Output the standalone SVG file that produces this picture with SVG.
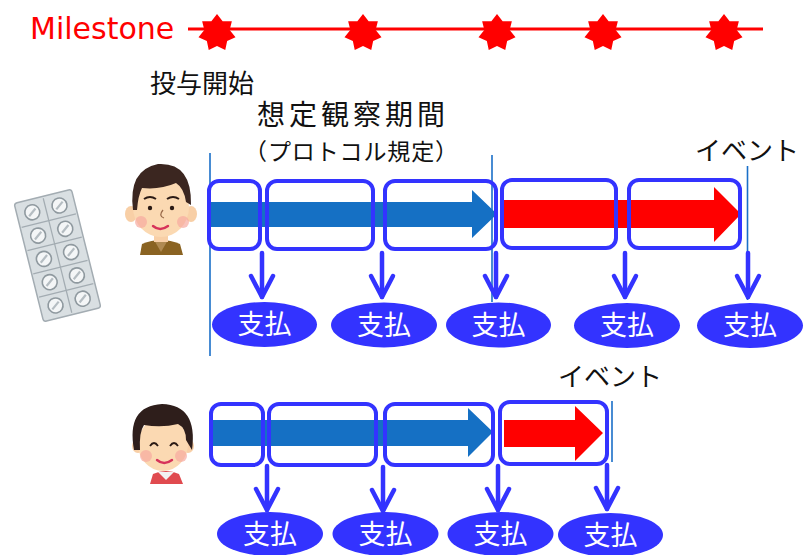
<svg xmlns="http://www.w3.org/2000/svg" width="807" height="555" viewBox="0 0 807 555">
  <style>
    .jp { font-family: "Noto Sans CJK JP", "Noto Sans", sans-serif; fill: #111; }
    .pay { font-family: "Noto Sans CJK JP", "Noto Sans", sans-serif; fill: #fff; font-size: 27px; text-anchor: middle; }
    .frame { fill: none; stroke: #3333ff; stroke-width: 4; }
    .oval { fill: #3333ff; }
    .down { fill: none; stroke: #3333ff; stroke-width: 4.5; stroke-linecap: round; stroke-linejoin: round; }
    .mark { stroke: #1a6fc8; stroke-width: 1.6; }
    .pillcell { fill: none; stroke: #a3acb2; stroke-width: 1.2; }
  </style>
  <defs>
    <polygon id="star" fill="#ff0000" points="0,-19 5.64,-11.71 14.85,-11.85 12.67,-2.89 18.52,4.23 10.16,8.11 8.24,17.12 0,13 -8.24,17.12 -10.16,8.11 -18.52,4.23 -12.67,-2.89 -14.85,-11.85 -5.64,-11.71"/>
    <g id="pill">
      <circle r="7.5" fill="#f4f6f7" stroke="#8f999f" stroke-width="1.6"/>
      <line x1="-4" y1="3" x2="4" y2="-3" stroke="#b5bdc2" stroke-width="2.2"/>
    </g>
    <g id="downArrow">
      <line class="down" x1="0" y1="0" x2="0" y2="44"/>
      <polyline class="down" points="-11,23 0,44 11,23"/>
    </g>
  </defs>

  <!-- milestone line -->
  <g id="milestone">
    <text x="30" y="39" font-family="DejaVu Sans, sans-serif" font-size="30" fill="#ff0000">Milestone</text>
    <line x1="188" y1="29" x2="763" y2="29" stroke="#ff0000" stroke-width="3"/>
    <use href="#star" x="217" y="33"/>
    <use href="#star" x="363" y="33"/>
    <use href="#star" x="497" y="33"/>
    <use href="#star" x="603" y="33"/>
    <use href="#star" x="724" y="33"/>
  </g>

  <!-- labels -->
  <g id="labels">
    <text class="jp" x="150" y="93" font-size="26">投与開始</text>
    <text class="jp" x="257" y="125" font-size="28" textLength="188" lengthAdjust="spacing">想定観察期間</text>
    <text class="jp" x="244" y="160" font-size="23" textLength="214" lengthAdjust="spacing">（プロトコル規定）</text>
    <text class="jp" x="695" y="160" font-size="26">イベント</text>
    <text class="jp" x="558" y="386" font-size="26">イベント</text>
  </g>

  <!-- blister pack -->
  <g id="blister" transform="translate(57.5 255.5) rotate(-14)">
    <rect x="-29.5" y="-61" width="59" height="122" rx="3" fill="#d9dfe2" stroke="#a3acb2" stroke-width="1.5"/>
    <line class="pillcell" x1="0" y1="-59" x2="0" y2="59"/>
    <line class="pillcell" x1="-28" y1="-36" x2="28" y2="-36"/>
    <line class="pillcell" x1="-28" y1="-12" x2="28" y2="-12"/>
    <line class="pillcell" x1="-28" y1="12" x2="28" y2="12"/>
    <line class="pillcell" x1="-28" y1="36" x2="28" y2="36"/>
    <use href="#pill" x="-14" y="-48"/><use href="#pill" x="14" y="-48"/>
    <use href="#pill" x="-14" y="-24"/><use href="#pill" x="14" y="-24"/>
    <use href="#pill" x="-14" y="0"/><use href="#pill" x="14" y="0"/>
    <use href="#pill" x="-14" y="24"/><use href="#pill" x="14" y="24"/>
    <use href="#pill" x="-14" y="48"/><use href="#pill" x="14" y="48"/>
  </g>

  <!-- man -->
  <g id="patient1">
    <path d="M140,255 L142,244 Q161,236 180,244 L183,255 Z" fill="#8a6322"/>
    <path d="M154,240 L161,252 L168,240 Z" fill="#b08a52"/>
    <rect x="154" y="230" width="14" height="12" fill="#f8cfa6"/>
    <ellipse cx="131" cy="214" rx="6" ry="8" fill="#f8cfa6"/>
    <ellipse cx="191" cy="214" rx="6" ry="8" fill="#f8cfa6"/>
    <ellipse cx="161" cy="207" rx="28" ry="30" fill="#fbd9b2"/>
    <path d="M133,210 Q128,170 158,164 Q192,162 191,205 L186,202 Q184,188 176,183 Q160,190 142,188 Q138,196 137,210 Z" fill="#3b2620"/>
    <circle cx="141" cy="222" r="6" fill="#f7a9a0" opacity="0.7"/>
    <circle cx="183" cy="222" r="6" fill="#f7a9a0" opacity="0.7"/>
    <path d="M144,199 Q150,195 156,199" fill="none" stroke="#2a1a14" stroke-width="2"/>
    <path d="M167,199 Q173,195 179,199" fill="none" stroke="#2a1a14" stroke-width="2"/>
    <circle cx="150" cy="208" r="2.2" fill="#2a1a14"/>
    <circle cx="172" cy="208" r="2.2" fill="#2a1a14"/>
    <path d="M163,210 Q158,216 164,218" fill="none" stroke="#9a6a4a" stroke-width="1.3"/>
    <path d="M153,226 Q160,232 168,226" fill="none" stroke="#d6335a" stroke-width="2.4" stroke-linecap="round"/>
  </g>

  <!-- woman -->
  <g id="patient2">
    <path d="M150,484 L153,474 Q166,468 179,474 L183,484 Z" fill="#e04a4f"/>
    <path d="M158,472 L166,480 L174,472 Z" fill="#f2f2f2"/>
    <ellipse cx="138" cy="446" rx="6" ry="7" fill="#f8cfa6"/>
    <ellipse cx="188" cy="446" rx="6" ry="7" fill="#f8cfa6"/>
    <ellipse cx="163" cy="444" rx="25" ry="27" fill="#fbd9b2"/>
    <path d="M134,450 Q126,406 162,404 Q198,405 192,450 L186,440 Q186,428 178,424 Q162,428 144,425 Q139,432 140,450 Z" fill="#2e1e1b"/>
    <circle cx="146" cy="456" r="6" fill="#f7a9a0" opacity="0.7"/>
    <circle cx="181" cy="456" r="6" fill="#f7a9a0" opacity="0.7"/>
    <path d="M150,446 Q154,440 158,446" fill="none" stroke="#2a1a14" stroke-width="1.8"/>
    <path d="M170,446 Q174,440 178,446" fill="none" stroke="#2a1a14" stroke-width="1.8"/>
    <path d="M157,460 Q164,466 172,460" fill="none" stroke="#d6335a" stroke-width="2.4" stroke-linecap="round"/>
  </g>

  <!-- timeline markers -->
  <g id="markers">
    <line class="mark" x1="210" y1="153" x2="210" y2="356"/>
    <line class="mark" x1="492" y1="155" x2="492" y2="302"/>
    <line class="mark" x1="747.5" y1="166" x2="747.5" y2="300"/>
    <line class="mark" x1="612" y1="401" x2="612" y2="462"/>
  </g>

  <!-- period arrows -->
  <g id="bars">
    <polygon fill="#1570c4" points="210,202 472,202 472,190 497,214 472,238 472,227 210,227"/>
    <polygon fill="#ff0000" points="503,200 714,200 714,187 741,214 714,242 714,228 503,228"/>
    <polygon fill="#1570c4" points="213,420 468,420 468,408 493,432 468,457 468,446 213,446"/>
    <polygon fill="#ff0000" points="504,420 575,420 575,406 603,433 575,461 575,447 504,447"/>
  </g>

  <!-- payment intervals -->
  <g id="intervals">
    <rect class="frame" x="209" y="181" width="51" height="68" rx="10"/>
    <rect class="frame" x="267" y="181" width="106" height="68" rx="10"/>
    <rect class="frame" x="385" y="181" width="111" height="68" rx="10"/>
    <rect class="frame" x="502" y="180" width="114" height="68" rx="10"/>
    <rect class="frame" x="629" y="180" width="111" height="68" rx="10"/>
    <rect class="frame" x="211" y="404" width="52" height="61" rx="10"/>
    <rect class="frame" x="269" y="404" width="107" height="61" rx="10"/>
    <rect class="frame" x="385" y="404" width="108" height="61" rx="10"/>
    <rect class="frame" x="500" y="402" width="107" height="62" rx="10"/>
  </g>

  <!-- connectors -->
  <g id="connectors">
    <use href="#downArrow" x="262" y="253"/>
    <use href="#downArrow" x="382" y="253"/>
    <use href="#downArrow" x="496" y="253"/>
    <use href="#downArrow" x="625" y="253"/>
    <use href="#downArrow" x="748" y="253"/>
    <use href="#downArrow" x="267" y="466"/>
    <use href="#downArrow" x="383" y="467"/>
    <use href="#downArrow" x="498" y="466"/>
    <use href="#downArrow" x="607" y="465"/>
  </g>

  <!-- payments -->
  <g id="pay1"><ellipse class="oval" cx="264.5" cy="324.5" rx="52.5" ry="22.5"/><text class="pay" x="264.5" y="334">支払</text></g>
  <g id="pay2"><ellipse class="oval" cx="384" cy="325" rx="53" ry="22.5"/><text class="pay" x="384" y="334.5">支払</text></g>
  <g id="pay3"><ellipse class="oval" cx="498.5" cy="325" rx="52.5" ry="22.5"/><text class="pay" x="498.5" y="334.5">支払</text></g>
  <g id="pay4"><ellipse class="oval" cx="627" cy="325.5" rx="53" ry="22.5"/><text class="pay" x="627" y="335">支払</text></g>
  <g id="pay5"><ellipse class="oval" cx="750" cy="325.5" rx="53" ry="22.5"/><text class="pay" x="750" y="335">支払</text></g>
  <g id="pay6"><ellipse class="oval" cx="270" cy="534" rx="53" ry="22"/><text class="pay" x="270" y="543.5">支払</text></g>
  <g id="pay7"><ellipse class="oval" cx="385.5" cy="534" rx="53" ry="22"/><text class="pay" x="385.5" y="543.5">支払</text></g>
  <g id="pay8"><ellipse class="oval" cx="500.5" cy="534" rx="53" ry="22"/><text class="pay" x="500.5" y="543.5">支払</text></g>
  <g id="pay9"><ellipse class="oval" cx="610.5" cy="535" rx="52.5" ry="22"/><text class="pay" x="610.5" y="544.5">支払</text></g>
</svg>
